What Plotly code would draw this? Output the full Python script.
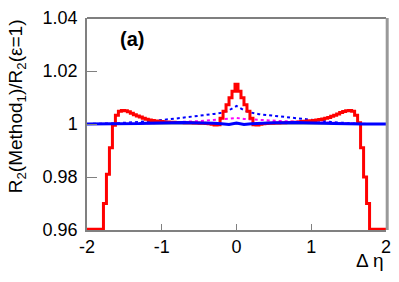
import numpy as np
import plotly.graph_objects as go

# red histogram (bin width 0.04, centres from -2.0 to 2.0)
red_vals = [
    # -2.00 .. -1.80
    0.9603, 0.9603, 0.9603, 0.9603, 0.9603, 0.9603,
    # -1.76 .. -1.52
    0.9700, 0.9810, 0.9910, 0.9995, 1.0033, 1.0048, 1.0051,
    # -1.48 .. -0.24
    1.0050, 1.0046, 1.0041, 1.0035, 1.0030, 1.0026, 1.0022, 1.0018,
    1.0015, 1.0013, 1.0011, 1.0010, 1.0009, 1.0008, 1.0008, 1.0007,
    1.0007, 1.0006, 1.0006, 1.0006, 1.0005, 1.0005, 1.0005, 1.0004,
    1.0004, 1.0003, 1.0003, 1.0002, 1.0001, 0.9999, 0.9996, 0.9997,
    # -0.20 .. 0.20
    1.0022, 1.0048, 1.0073, 1.0099, 1.0124, 1.0150,
    1.0124, 1.0099, 1.0073, 1.0048, 1.0022,
    # 0.24 .. 1.52
    0.9997, 0.9996, 0.9999, 1.0001, 1.0002, 1.0003, 1.0003, 1.0004,
    1.0004, 1.0005, 1.0005, 1.0006, 1.0006, 1.0007, 1.0007, 1.0008,
    1.0009, 1.0010, 1.0011, 1.0012, 1.0013, 1.0015, 1.0017, 1.0019,
    1.0022, 1.0025, 1.0029, 1.0033, 1.0038, 1.0043, 1.0047, 1.0050,
    1.0051,
    # 1.56 .. 1.76
    1.0048, 1.0033, 1.0005, 0.9910, 0.9800, 0.9700,
    # 1.80 .. 2.00
    0.9603, 0.9603, 0.9603, 0.9603, 0.9603, 0.9603,
]
red_x = np.round(np.linspace(-2.0, 2.0, len(red_vals)), 2)

# smooth curves, sampled every 0.1 in delta eta
curve_x = np.round(np.linspace(-2.0, 2.0, 41), 1)
blue_dot = [
    1.0000, 1.0000, 1.0001, 1.0002, 1.0003, 1.0004, 1.0006, 1.0008, 1.0010, 1.0012,
    1.0015, 1.0018, 1.0021, 1.0024, 1.0028, 1.0032, 1.0035, 1.0038, 1.0042, 1.0052,
    1.0068,
    1.0052, 1.0043, 1.0037, 1.0034, 1.0031, 1.0028, 1.0024, 1.0021, 1.0017, 1.0014,
    1.0012, 1.0009, 1.0007, 1.0005, 1.0003, 1.0001, 1.0000, 1.0000, 1.0000, 1.0000,
]
magenta_dot = [
    1.0000, 1.0000, 1.0000, 1.0001, 1.0001, 1.0001, 1.0002, 1.0002, 1.0002, 1.0003,
    1.0004, 1.0005, 1.0007, 1.0008, 1.0010, 1.0011, 1.0013, 1.0015, 1.0017, 1.0019,
    1.0023,
    1.0019, 1.0017, 1.0015, 1.0013, 1.0012, 1.0011, 1.0010, 1.0009, 1.0008, 1.0007,
    1.0005, 1.0004, 1.0003, 1.0002, 1.0001, 1.0001, 1.0000, 1.0000, 1.0000, 1.0000,
]
blue_solid = [
    1.0000, 1.0000, 1.0000, 1.0000, 1.0000, 1.0001, 1.0001, 1.0002, 1.0003, 1.0004,
    1.0005, 1.0005, 1.0006, 1.0006, 1.0005, 1.0005, 1.0004, 1.0003, 1.0001, 0.9998,
    1.0004,
    0.9998, 1.0001, 1.0003, 1.0004, 1.0005, 1.0005, 1.0006, 1.0006, 1.0005, 1.0005,
    1.0004, 1.0003, 1.0002, 1.0001, 1.0001, 1.0000, 1.0000, 1.0000, 1.0000, 1.0000,
]

y_ticks = [0.96, 0.98, 1.0, 1.02, 1.04]
y_labels = ["0.96", "0.98", "1", "1.02", "1.04"]
x_ticks = [-2, -1, 0, 1, 2]
x_labels = ["-2", "-1", "0", "1", "2"]

fig = go.Figure()

fig.add_shape(type="line", xref="paper", yref="y", x0=0, x1=1, y0=1, y1=1,
              line=dict(color="#9a9a9a", width=1.5), layer="below")

fig.add_trace(go.Scatter(x=curve_x, y=blue_dot, mode="lines",
                         line=dict(color="#0000ff", width=2, dash="dot")))
fig.add_trace(go.Scatter(x=curve_x, y=magenta_dot, mode="lines",
                         line=dict(color="#ff00ff", width=2, dash="dot")))
fig.add_trace(go.Scatter(x=red_x, y=red_vals, mode="lines",
                         line=dict(color="#ff0000", width=3, shape="hvh")))
fig.add_trace(go.Scatter(x=curve_x, y=blue_solid, mode="lines",
                         line=dict(color="#0000ff", width=3)))

font = "Liberation Sans, Arial, sans-serif"

fig.update_layout(
    width=399, height=282,
    margin=dict(l=87, r=12, t=8, b=52),
    paper_bgcolor="white", plot_bgcolor="white",
    showlegend=False,
    font=dict(family=font, size=18, color="black"),
    xaxis=dict(range=[-2, 2], tickvals=x_ticks, ticktext=x_labels,
               ticks="inside", ticklen=6,
               tickcolor="#808080", showline=True, linecolor="#808080", linewidth=1.5,
               showgrid=False, zeroline=False, tickfont=dict(size=18),
               ticklabeloverflow="allow"),
    yaxis=dict(range=[0.96, 1.04], tickvals=y_ticks, ticktext=y_labels,
               ticks="inside", ticklen=10, tickcolor="#808080",
               showline=True, linecolor="#808080", linewidth=1.5,
               showgrid=False, zeroline=False, tickfont=dict(size=18),
               ticklabeloverflow="allow", ticklabelstandoff=4),
)

# frame: dark top, thick grey right
fig.add_shape(type="line", xref="paper", yref="paper", x0=0, x1=1, y0=1, y1=1,
              line=dict(color="#555555", width=1.5))
fig.add_shape(type="line", xref="paper", yref="paper", x0=1.004, x1=1.004, y0=0, y1=1,
              line=dict(color="#999999", width=3))

fig.add_annotation(text="<b>(a)</b>", xref="paper", yref="paper", x=0.103, y=0.90,
                   showarrow=False, font=dict(size=20), xanchor="left", yanchor="middle")
fig.add_annotation(text="Δ η", xref="paper", yref="paper", x=1.0, y=-0.144,
                   showarrow=False, font=dict(size=19), xanchor="right", yanchor="middle")
fig.add_annotation(text="R<sub>2</sub>(Method<sub>1</sub>)/R<sub>2</sub>(ε=1)",
                   xref="paper", yref="paper", x=-0.233, y=0.585, textangle=-90,
                   showarrow=False, font=dict(size=19), xanchor="center", yanchor="middle")

fig.write_html("out.html", config={"displayModeBar": False},
               post_script="document.body.style.margin='0px';")
